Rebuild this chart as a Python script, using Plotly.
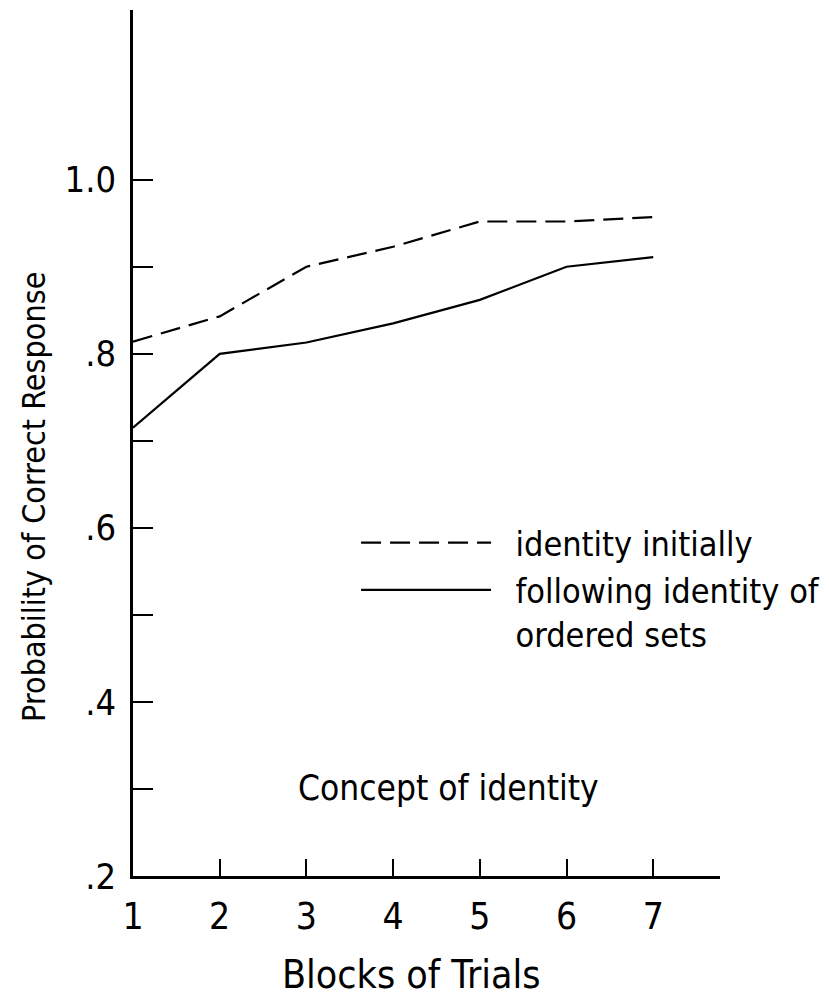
# Probability of correct response by block -- concept of identity
import plotly.graph_objects as go

blocks = [1, 2, 3, 4, 5, 6, 7]
identity_initially = [0.814, 0.843, 0.900, 0.923, 0.952, 0.952, 0.957]
following_ordered = [0.715, 0.800, 0.813, 0.835, 0.862, 0.900, 0.911]

y_tickvals = [0.2, 0.3, 0.4, 0.5, 0.6, 0.7, 0.8, 0.9, 1.0]
y_ticktext = [".2", "", ".4", "", ".6", "", ".8", "", "1.0"]
x_tickvals = [1, 2, 3, 4, 5, 6, 7]
x_ticktext = ["1", "2", "3", "4", "5", "6", "7"]

FONT = "DejaVu Sans Condensed, Liberation Sans Narrow, sans-serif"
PAD = "\u00a0\u00a0"

fig = go.Figure()

fig.add_trace(
    go.Scatter(
        x=blocks,
        y=identity_initially,
        mode="lines",
        name=PAD + "identity initially",
        line=dict(color="black", width=2.2, dash="20px,9px"),
    )
)

fig.add_trace(
    go.Scatter(
        x=blocks,
        y=following_ordered,
        mode="lines",
        name=PAD + "following identity of<br>" + PAD + "ordered sets",
        line=dict(color="black", width=2.2),
    )
)

# page body has an 8px margin, so the figure is sized to end at the window edge
fig.update_layout(
    width=821,
    height=988,
    paper_bgcolor="white",
    plot_bgcolor="white",
    font=dict(family=FONT, color="black", size=34),
    margin=dict(l=125, r=109, t=2, b=120),
    showlegend=True,
    legend=dict(
        x=0.38,
        y=0.418,
        xanchor="left",
        yanchor="top",
        bgcolor="rgba(0,0,0,0)",
        font=dict(family=FONT, size=34, color="black"),
        itemwidth=130,
        tracegroupgap=0,
        valign="top",
    ),
    annotations=[
        dict(
            text="Concept of identity",
            x=0.537,
            y=0.102,
            xref="paper",
            yref="paper",
            xanchor="center",
            yanchor="middle",
            showarrow=False,
            font=dict(family=FONT, size=35, color="black"),
        ),
        dict(
            text="Blocks of Trials",
            x=0.474,
            y=-0.114,
            xref="paper",
            yref="paper",
            xanchor="center",
            yanchor="middle",
            showarrow=False,
            font=dict(family=FONT, size=39, color="black"),
        ),
        dict(
            text="Probability of Correct Response",
            x=-0.17,
            y=0.438,
            xref="paper",
            yref="paper",
            xanchor="center",
            yanchor="middle",
            textangle=-90,
            showarrow=False,
            font=dict(family=FONT, size=32, color="black"),
        ),
    ],
)

fig.update_xaxes(
    range=[1, 7.77],
    tickvals=x_tickvals,
    ticktext=x_ticktext,
    ticks="inside",
    ticklen=17,
    tickwidth=2,
    tickcolor="black",
    showline=True,
    linecolor="black",
    linewidth=2.5,
    showgrid=False,
    zeroline=False,
    tickfont=dict(family=FONT, size=37),
    ticklabelstandoff=6,
)

fig.update_yaxes(
    range=[0.2, 1.195],
    tickvals=y_tickvals,
    ticktext=y_ticktext,
    ticks="inside",
    ticklen=20,
    tickwidth=2,
    tickcolor="black",
    showline=True,
    linecolor="black",
    linewidth=2.5,
    showgrid=False,
    zeroline=False,
    tickfont=dict(family=FONT, size=36),
    ticklabelstandoff=7,
)

fig.write_html("out.html")
